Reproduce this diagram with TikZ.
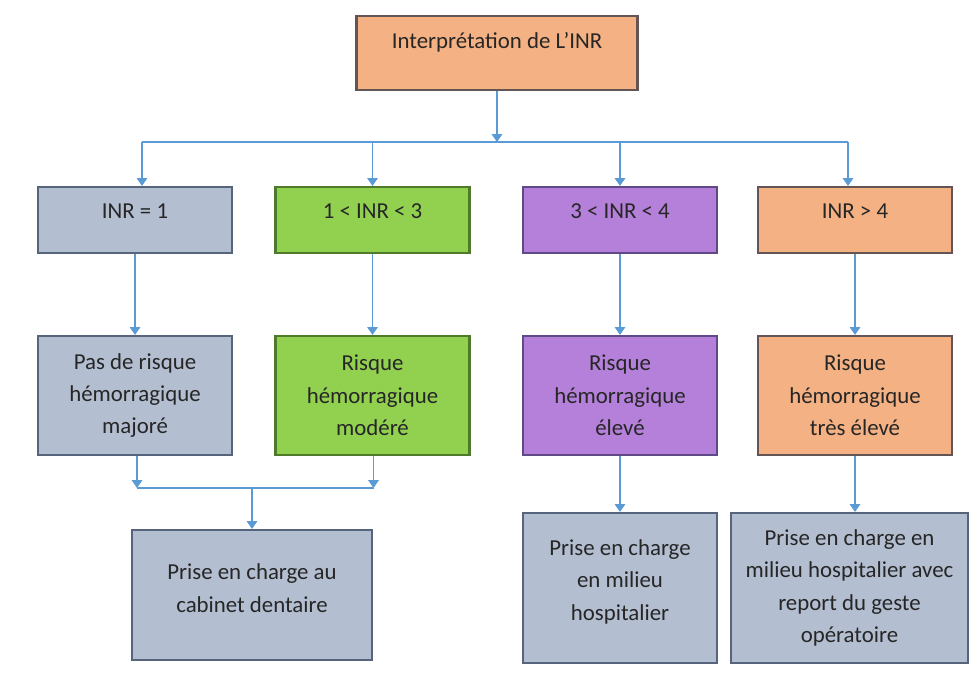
\documentclass[tikz,border=0pt]{standalone}
\usepackage{fontspec}
\setmainfont{Carlito}
\usepackage{xcolor}
\usepackage{tikz}
\usetikzlibrary{arrows.meta,positioning}
\definecolor{inrGray}{HTML}{B3BED0}
\definecolor{inrGrayLine}{HTML}{56657C}
\definecolor{inrGreen}{HTML}{92D050}
\definecolor{inrGreenLine}{HTML}{4E7A2A}
\definecolor{inrPurple}{HTML}{B580DA}
\definecolor{inrPurpleLine}{HTML}{5E4A86}
\definecolor{inrOrange}{HTML}{F4B183}
\definecolor{inrOrangeLine}{HTML}{635553}
\definecolor{inrLink}{HTML}{5B9BD5}
\definecolor{inrText}{HTML}{262626}

\begin{document}
\begin{tikzpicture}[x=0.02cm, y=-0.02cm,
    font=\fontsize{13}{18.4}\selectfont, text=inrText,
    box/.style 2 args={draw=#2, fill=#1, line width=1.2pt, align=center,
                inner sep=2pt},
    grayBox/.style={box={inrGray}{inrGrayLine}},
    greenBox/.style={box={inrGreen}{inrGreenLine}},
    purpleBox/.style={box={inrPurple}{inrPurpleLine}},
    orangeBox/.style={box={inrOrange}{inrOrangeLine}},
    rangeBox/.style={minimum width=3.88cm, minimum height=1.32cm, text depth=0.36cm},
    riskBox/.style={minimum width=3.88cm, minimum height=2.38cm},
    link/.style={draw=inrLink, line width=0.8pt},
    arrow/.style={link, -{Triangle[width=6pt,length=4.5pt]}}]
  \useasboundingbox (0,0) rectangle (974,673);

  % top
  \node[orangeBox, minimum width=5.62cm, minimum height=1.48cm, text depth=0.5cm]
    (top) at (497,53) {Interprétation de L’INR};

  % INR ranges
  \node[grayBox, rangeBox]   (rangeA) at (135,220)   {INR = 1};
  \node[greenBox, rangeBox]  (rangeB) at (372.5,220) {1 < INR < 3};
  \node[purpleBox, rangeBox] (rangeC) at (620,220)   {3 < INR < 4};
  \node[orangeBox, rangeBox] (rangeD) at (855,220)   {INR > 4};

  % bleeding risk
  \node[grayBox, riskBox]   (riskA) at (135,395.5)   {Pas de risque\\hémorragique\\majoré};
  \node[greenBox, riskBox]  (riskB) at (372.5,395.5) {Risque\\hémorragique\\modéré};
  \node[purpleBox, riskBox] (riskC) at (620,395.5)   {Risque\\hémorragique\\élevé};
  \node[orangeBox, riskBox] (riskD) at (855,395.5)   {Risque\\hémorragique\\très élevé};

  % care
  \node[grayBox, minimum width=4.8cm, minimum height=2.6cm, text depth=0.28cm]
    (careA) at (252,595) {Prise en charge au\\cabinet dentaire};
  \node[grayBox, minimum width=3.88cm, minimum height=3cm, text depth=0.32cm]
    (careC) at (620,588) {Prise en charge\\en milieu\\hospitalier};
  \node[grayBox, minimum width=4.74cm, minimum height=3cm]
    (careD) at (849.5,588) {Prise en charge en\\milieu hospitalier avec\\report du geste\\opératoire};

  % buses
  \coordinate (busT) at (497,142);
  \coordinate (busTA) at (142,142);
  \coordinate (busTB) at (372.5,142);
  \coordinate (busTC) at (620,142);
  \coordinate (busTD) at (848,142);
  \coordinate (busB) at (252,488);
  \coordinate (busBA) at (137,488);
  \coordinate (busBB) at (373.5,488);

  \draw[arrow] (top) -- (busT);
  \draw[link] (busTA) -- (busTD);
  \draw[arrow] (busTA) -- (busTA |- rangeA.north);
  \draw[arrow] (busTB) -- (rangeB);
  \draw[arrow] (busTC) -- (rangeC);
  \draw[arrow] (busTD) -- (busTD |- rangeD.north);
  \draw[arrow] (rangeA) -- (riskA);
  \draw[arrow] (rangeB) -- (riskB);
  \draw[arrow] (rangeC) -- (riskC);
  \draw[arrow] (rangeD) -- (riskD);
  \draw[arrow] (busBA |- riskA.south) -- (busBA);
  \draw[arrow] (busBB |- riskB.south) -- (busBB);
  \draw[link] (busBA) -- (busBB);
  \draw[arrow] (busB) -- (careA);
  \draw[arrow] (riskC) -- (careC);
  \draw[arrow] (riskD) -- (riskD |- careD.north);
\end{tikzpicture}
\end{document}
